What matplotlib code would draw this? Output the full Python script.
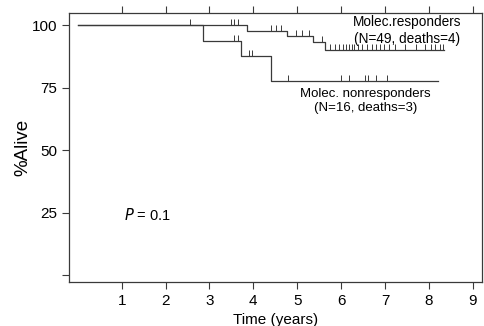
import matplotlib.pyplot as plt

plt.rcParams['font.family'] = ['Liberation Sans', 'DejaVu Sans']

# Kaplan-Meier step data (years, % alive)
resp_times = [0, 3.86, 4.77, 5.36, 5.64, 8.34]
resp_surv = [100, 97.7, 95.8, 93.1, 90.2, 90.2]
resp_cens_t = [2.55, 3.5, 3.57, 3.64, 4.4, 4.52, 4.64, 4.98, 5.1, 5.27, 5.57,
               5.75, 5.85, 5.95, 6.05, 6.12, 6.18, 6.25, 6.3, 6.38, 6.48, 6.6,
               6.7, 6.8, 6.88, 6.98, 7.1, 7.22, 7.45, 7.7, 7.9, 8.05, 8.15, 8.25, 8.32]

nonr_times = [0, 2.86, 3.73, 4.4, 8.2]
nonr_surv = [100, 93.8, 87.5, 77.8, 77.8]
nonr_cens_t = [3.57, 3.64, 3.9, 3.96, 4.8, 6.0, 6.18, 6.55, 6.62, 6.8, 7.04]

xticks = [1, 2, 3, 4, 5, 6, 7, 8, 9]
yticks = [0, 25, 50, 75, 100]
ytick_labels = ['', '25', '50', '75', '100']


def surv_at(times, surv, t):
    val = surv[0]
    for ti, si in zip(times, surv):
        if ti <= t:
            val = si
    return val


fig = plt.figure(figsize=(4.85, 3.26), dpi=100)
ax = fig.add_axes([0.1423, 0.135, 0.8515, 0.825])

col = '#3a3a3a'
ax.step(resp_times, resp_surv, where='post', color=col, lw=0.9)
ax.step(nonr_times, nonr_surv, where='post', color=col, lw=0.9)
ax.plot(resp_cens_t, [surv_at(resp_times, resp_surv, t) for t in resp_cens_t],
        linestyle='none', marker=2, markersize=4, color=col, mew=0.7)
ax.plot(nonr_cens_t, [surv_at(nonr_times, nonr_surv, t) for t in nonr_cens_t],
        linestyle='none', marker=2, markersize=4, color=col, mew=0.7)

ax.set_xlim(-0.2, 9.21)
ax.set_ylim(-2.8, 104.8)
ax.set_xticks(xticks)
ax.set_xticklabels([str(x) for x in xticks])
ax.set_yticks(yticks)
ax.set_yticklabels(ytick_labels)
ax.tick_params(axis='both', labelsize=11, length=5, width=0.8, color=col)
ax.tick_params(top=True, labeltop=False, direction='out')
for s in ax.spines.values():
    s.set_linewidth(0.9)
    s.set_color(col)

ax.set_xlabel('Time (years)', fontsize=11, labelpad=4)
ax.set_ylabel('%Alive', fontsize=13.5, labelpad=0)

ax.text(7.5, 104, 'Molec.responders\n(N=49, deaths=4)', ha='center', va='top',
        fontsize=9.8, linespacing=1.3)
ax.text(6.55, 75, 'Molec. nonresponders\n(N=16, deaths=3)', ha='center', va='top',
        fontsize=9.5, linespacing=1.3)
ax.text(1.05, 24, r'$\mathit{P}$ = 0.1', fontsize=10.5, va='center')

fig.savefig('out.png', dpi=100)
